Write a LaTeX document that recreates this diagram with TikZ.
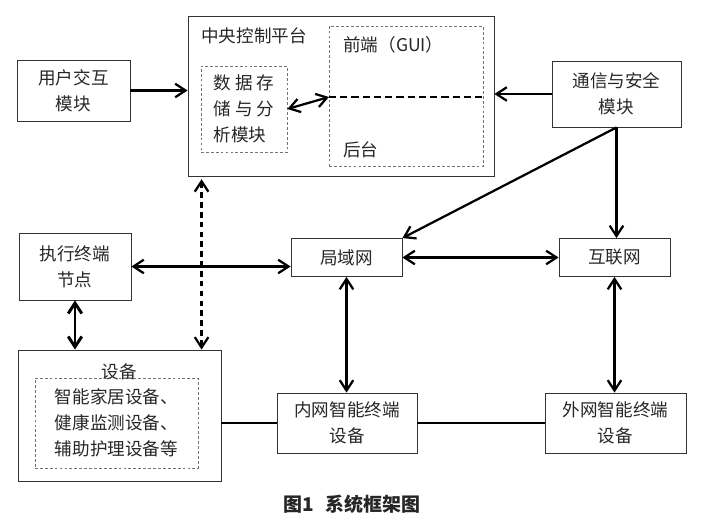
\documentclass[tikz,border=0pt]{standalone}
\usepackage{fontspec}
\setmainfont{Noto Sans CJK SC}
\usetikzlibrary{arrows.meta}
\begin{document}
\begin{tikzpicture}[>={Straight Barb[length=2.6mm,width=3.4mm]},
  box/.style={draw=black!80, line width=0.6pt, rectangle, align=center, inner sep=0pt},
  dbox/.style={draw=black!55, line width=0.5pt, dash pattern=on 2pt off 1.5pt, rectangle, inner sep=0pt},
  lbl/.style={anchor=west, inner sep=0pt},
  link/.style={line width=1.6pt},
  font=\fontsize{12.5}{18.5}\selectfont, text=black!85]
\useasboundingbox (0,0) rectangle (17.75,12.95);

\node(Plat)[box, minimum width=7.65cm, minimum height=4cm] at (8.525,10.55) {};
\node(PlatLbl)[lbl] at (5.025,12.05) {中央控制平台};
\node(Data)[dbox, minimum width=2.15cm, minimum height=2.15cm, align=left] at (6.1,10.225) {数 据 存\\储 与 分\\析模块};
\node(Ui)[dbox, minimum width=3.85cm, minimum height=3.5cm] at (10.15,10.55) {};
\node(Front)[lbl] at (8.575,11.825) {前端（GUI）};
\node(Back)[lbl] at (8.575,9.2) {后台};
\coordinate(DivL) at (8.225,10.525);
\coordinate(DivR) at (12.075,10.525);

\node(User)[box, minimum width=2.825cm, minimum height=1.525cm] at (1.8375,10.6875) {用户交互\\模块};
\node(Sec)[box, minimum width=3.225cm, minimum height=1.65cm] at (15.4125,10.6) {通信与安全\\模块};
\node(Lan)[box, minimum width=2.775cm, minimum height=0.95cm] at (8.6625,6.5125) {局域网};
\node(Net)[box, minimum width=2.775cm, minimum height=0.95cm] at (15.3625,6.5125) {互联网};
\node(Exec)[box, minimum width=2.8cm, minimum height=1.675cm] at (1.875,6.2875) {执行终端\\节点};

\node(Dev)[box, minimum width=5.075cm, minimum height=3.275cm] at (2.9875,2.5625) {};
\node(DevLbl) at (2.9875,3.65) {设备};
\node(DevList)[dbox, minimum width=4.075cm, minimum height=2.25cm, align=left] at (2.9125,2.375) {智能家居设备、\\健康监测设备、\\辅助护理设备等};
\node(Intra)[box, minimum width=3.5cm, minimum height=1.5cm] at (8.675,2.375) {内网智能终端\\设备};
\node(Extra)[box, minimum width=3.525cm, minimum height=1.5cm] at (15.3875,2.375) {外网智能终端\\设备};

\node(Cap)[font=\fontsize{13.5}{16}\selectfont\bfseries] at (8.8,0.35) {图1\hspace{0.6em}系统框架图};

\draw[line width=1.4pt, dash pattern=on 5pt off 3pt] (DivL) -- (DivR);
\draw (User.east) edge[link,->] (User.east -| Plat.west);
\draw (Sec.west) edge[link,->] (Sec.west -| Plat.east);
\draw (Data.east) edge[link,<->] (DivL);
\draw (Sec.south) edge[link,->] (Lan.north east);
\draw (Sec.south) edge[link,->] (Sec.south |- Net.north);
\draw (Lan.east) edge[link,<->] (Net.west);
\draw (Exec.east) edge[link,<->] (Exec.east -| Lan.west);
\coordinate(PlatFoot) at ([xshift=0.35cm]Plat.south west);
\draw (PlatFoot) edge[link, dash pattern=on 4pt off 3pt, <->, shorten <=2pt] (PlatFoot |- Dev.north);
\draw (Exec.south) edge[line width=2.1pt,<->] (Exec.south |- Dev.north);
\draw (Lan.south) edge[link,<->] (Lan.south |- Intra.north);
\draw (Net.south) edge[link,<->] (Net.south |- Extra.north);
\draw[line width=1.2pt] (Intra.west -| Dev.east) -- (Intra.west);
\draw[line width=1.2pt] (Intra.east) -- (Extra.west);
\end{tikzpicture}
\end{document}
